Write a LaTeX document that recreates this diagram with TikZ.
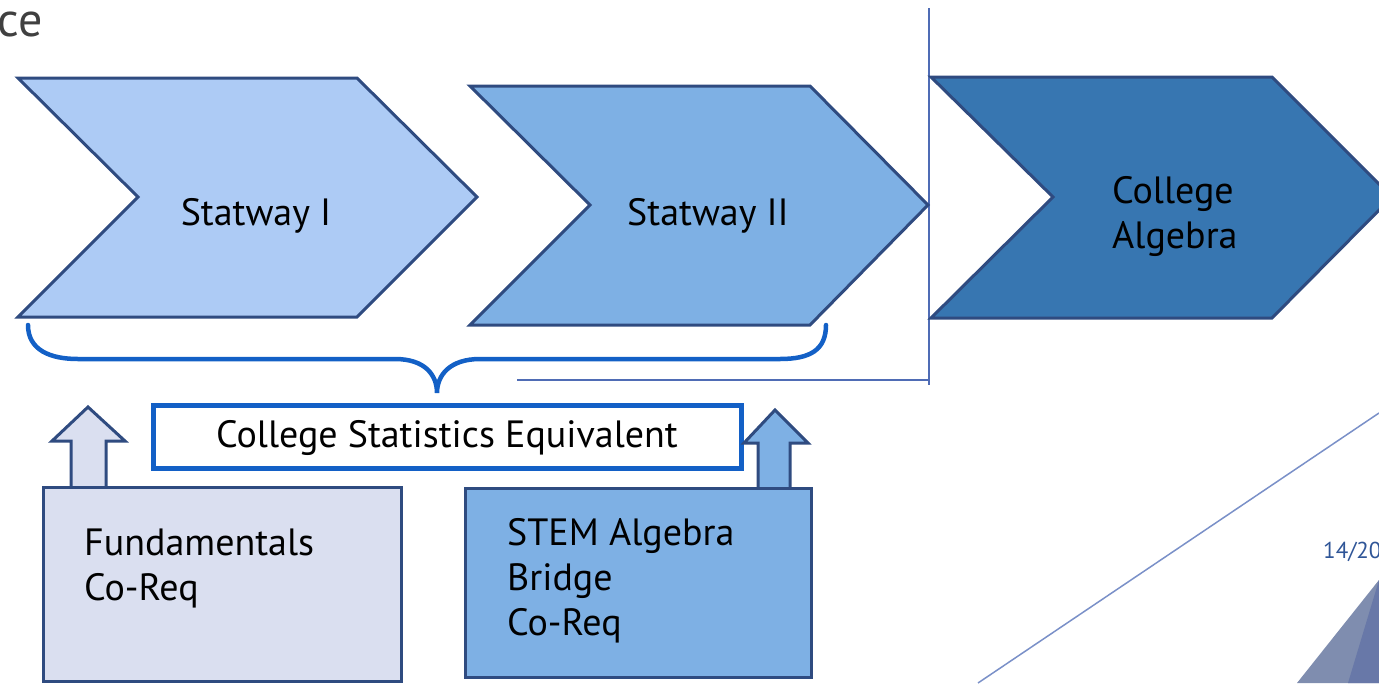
\documentclass[tikz,border=0pt]{standalone}
\usepackage{fontspec}
\setmainfont{PT Sans}
\definecolor{navy}{HTML}{2F4B80}
\definecolor{cvA}{HTML}{ADCBF5}
\definecolor{cvB}{HTML}{7EB0E4}
\definecolor{cvC}{HTML}{3776B1}
\definecolor{brc}{HTML}{1360C6}
\definecolor{lav}{HTML}{DADFF0}
\definecolor{sep}{HTML}{4F6CB5}
\definecolor{deco}{HTML}{7A90C8}
\definecolor{pgnum}{HTML}{2F5597}
\definecolor{triA}{HTML}{7F8DAF}
\definecolor{triB}{HTML}{6878A8}
\tikzset{
  chev/.style={draw=navy, line width=3pt, line join=miter},
  boxshape/.style={draw=navy, line width=3pt},
  lbl/.style={font=\fontsize{38}{45}\selectfont, text=black, inner sep=0pt},
  lbll/.style={lbl, align=left, anchor=west},
}
\begin{document}
\begin{tikzpicture}[x=1pt,y=-1pt]
\useasboundingbox (0,0) rectangle (1379,683);
\clip (0,0) rectangle (1379,683);
% title fragment
\node[anchor=east, inner sep=0pt, text=black!75, font=\fontsize{48}{48}\selectfont] (title) at (43,24) {ce};
% separator lines
\draw[sep, line width=1.5pt] (929,8) -- (929,385);
\draw[sep, line width=1.5pt] (517,380) -- (929,380);
% decorative line and triangles
\draw[deco, line width=1.5pt] (978,683) -- (1379,413);
\fill[triA] (1297,683) -- (1379,580) -- (1379,683) -- cycle;
\fill[triB] (1348,683) -- (1379,580) -- (1379,683) -- cycle;
\node[anchor=west, inner sep=0pt, text=pgnum, font=\fontsize{23}{23}\selectfont] (pg) at (1323,552) {14/20};
% chevrons
\draw[chev, fill=cvA] (18,78) -- (357,78) -- (477,197) -- (357,317) -- (18,317) -- (138,197) -- cycle;
\draw[chev, fill=cvB] (470,86) -- (810,86) -- (928,205) -- (810,325) -- (470,325) -- (590,205) -- cycle;
\draw[chev, fill=cvC] (931,77) -- (1272,77) -- (1392,197) -- (1272,318) -- (931,318) -- (1053,197) -- cycle;
\node[lbl] (s1) at (256,216) {Statway I};
\node[lbl] (s2) at (708,216) {Statway II};
\node[lbll, align=left] (ca) at (1112,216) {College\\Algebra};
% brace
\draw[brc, line width=4.5pt, line cap=round]
  (28,325) .. controls (28,350) and (50,359) .. (78,359) -- (395,359)
  .. controls (425,359) and (437,375) .. (437,393)
  .. controls (437,375) and (450,359) .. (480,359) -- (780,359)
  .. controls (810,359) and (826,350) .. (826,325);
% equivalent box
\draw[brc, line width=5pt, fill=white] (153,405) rectangle (741,468);
\node[lbl] (eq) at (447,438) {College Statistics Equivalent};
% up arrows
\draw[boxshape, fill=lav] (71,487) -- (71,441) -- (52,441) -- (88,407) -- (125,441) -- (106,441) -- (106,487);
\draw[boxshape, fill=cvB] (758,488) -- (758,443) -- (744,443) -- (775,410) -- (808,443) -- (790,443) -- (790,488);
% bottom boxes
\draw[boxshape, fill=lav] (43,487) rectangle (401,681);
\draw[boxshape, fill=cvB] (465,488) rectangle (811,677);
\node[lbll] (fu) at (84,568) {Fundamentals\\Co-Req};
\node[lbll] (st) at (507,581) {STEM Algebra\\Bridge\\Co-Req};
\end{tikzpicture}
\end{document}
